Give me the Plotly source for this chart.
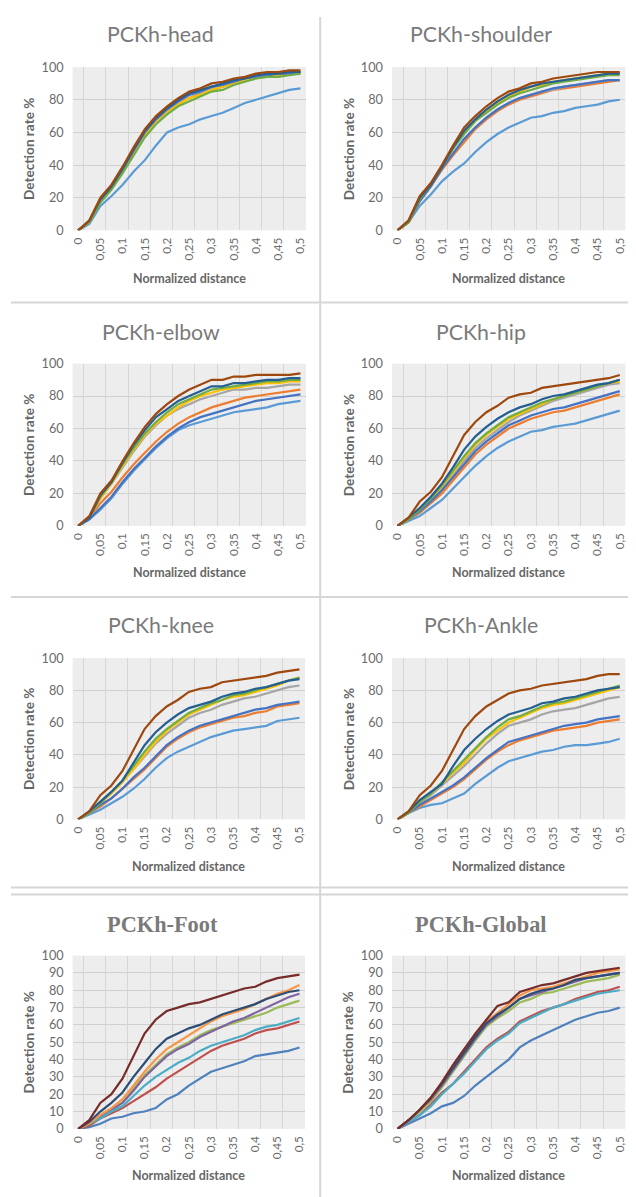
import plotly.graph_objects as go

# Page placement observed for the figure in the photographed window:
# screen = ORG + SC * figure_pixel.  Positions below are given in screen pixels
# and converted back to figure pixels.
ORG, SC = 16.0, 0.985
W, H = 630, 1200

x_vals = [0, 0.025, 0.05, 0.075, 0.1, 0.125, 0.15, 0.175, 0.2, 0.225, 0.25,
          0.275, 0.3, 0.325, 0.35, 0.375, 0.4, 0.425, 0.45, 0.475, 0.5]
x_tick_vals = [0, 0.05, 0.1, 0.15, 0.2, 0.25, 0.3, 0.35, 0.4, 0.45, 0.5]
x_tick_text = ["0", "0,05", "0,1", "0,15", "0,2", "0,25", "0,3", "0,35", "0,4", "0,45", "0,5"]

titles = ["PCKh-head", "PCKh-shoulder", "PCKh-elbow", "PCKh-hip",
          "PCKh-knee", "PCKh-Ankle", "PCKh-Foot", "PCKh-Global"]

colors_top = ['#5B9BD5', '#ED7D31', '#A5A5A5', '#FFC000', '#4472C4', '#70AD47', '#255E91', '#9E480E']
colors_bottom = ['#4F81BD', '#C0504D', '#9BBB59', '#8064A2', '#4BACC6', '#F79646', '#2C4D75', '#772C2A']

head = [
    [0, 4, 15, 21, 28, 36, 43, 52, 60, 63, 65, 68, 70, 72, 75, 78, 80, 82, 84, 86, 87],
    [0, 5, 18, 26, 36, 48, 59, 67, 73, 78, 81, 84, 86, 88, 90, 92, 94, 95, 95, 96, 97],
    [0, 5, 18, 26, 37, 48, 59, 67, 73, 78, 81, 84, 87, 88, 90, 92, 94, 95, 95, 96, 96],
    [0, 5, 18, 26, 36, 48, 58, 67, 73, 77, 81, 83, 86, 88, 90, 92, 93, 94, 95, 96, 96],
    [0, 5, 18, 27, 37, 49, 60, 68, 74, 79, 83, 85, 88, 89, 91, 93, 94, 95, 96, 96, 97],
    [0, 5, 17, 25, 35, 46, 57, 65, 71, 76, 79, 82, 85, 86, 89, 91, 93, 94, 94, 95, 96],
    [0, 6, 19, 27, 38, 50, 61, 69, 75, 80, 84, 86, 88, 90, 92, 93, 95, 96, 96, 97, 97],
    [0, 6, 20, 28, 39, 51, 62, 70, 76, 81, 85, 87, 90, 91, 93, 94, 96, 97, 97, 98, 98],
]
shoulder = [
    [0, 5, 15, 22, 30, 36, 41, 48, 54, 59, 63, 66, 69, 70, 72, 73, 75, 76, 77, 79, 80],
    [0, 5, 18, 27, 37, 46, 54, 62, 68, 73, 77, 80, 82, 84, 86, 87, 88, 89, 90, 91, 92],
    [0, 5, 18, 27, 38, 47, 56, 63, 69, 74, 78, 81, 83, 85, 86, 88, 89, 90, 91, 92, 92],
    [0, 5, 19, 28, 39, 50, 60, 67, 73, 78, 82, 85, 88, 89, 91, 92, 93, 94, 95, 96, 96],
    [0, 5, 18, 27, 38, 47, 56, 63, 69, 74, 78, 81, 83, 85, 87, 88, 89, 90, 91, 92, 92],
    [0, 5, 19, 28, 39, 50, 59, 67, 72, 77, 81, 84, 86, 88, 90, 91, 92, 93, 94, 95, 95],
    [0, 6, 20, 28, 39, 51, 61, 68, 74, 79, 83, 86, 88, 90, 91, 92, 93, 94, 95, 96, 96],
    [0, 6, 21, 29, 40, 52, 63, 70, 76, 81, 85, 87, 90, 91, 93, 94, 95, 96, 97, 97, 97],
]
elbow = [
    [0, 4, 10, 17, 26, 34, 41, 48, 54, 59, 62, 64, 66, 68, 70, 71, 72, 73, 75, 76, 77],
    [0, 5, 14, 21, 30, 38, 45, 52, 58, 63, 67, 70, 73, 75, 77, 79, 80, 81, 82, 83, 84],
    [0, 5, 17, 26, 36, 46, 55, 62, 68, 72, 75, 78, 80, 82, 84, 84, 85, 85, 86, 87, 87],
    [0, 5, 17, 26, 37, 47, 56, 63, 68, 73, 77, 80, 82, 84, 85, 86, 87, 88, 88, 89, 89],
    [0, 4, 11, 18, 27, 35, 42, 49, 55, 60, 64, 67, 69, 71, 73, 75, 77, 78, 79, 80, 81],
    [0, 5, 18, 27, 38, 48, 57, 64, 70, 75, 78, 81, 84, 85, 86, 87, 88, 89, 89, 90, 90],
    [0, 5, 19, 27, 39, 50, 59, 67, 72, 77, 80, 83, 86, 86, 88, 88, 89, 90, 90, 91, 91],
    [0, 6, 20, 28, 40, 51, 61, 69, 75, 80, 84, 87, 90, 90, 92, 92, 93, 93, 93, 93, 94],
]
hip = [
    [0, 3, 6, 11, 16, 23, 30, 37, 43, 48, 52, 55, 58, 59, 61, 62, 63, 65, 67, 69, 71],
    [0, 4, 8, 14, 20, 28, 36, 44, 50, 55, 60, 63, 66, 68, 70, 71, 73, 75, 77, 79, 81],
    [0, 4, 9, 16, 23, 31, 40, 48, 54, 59, 64, 68, 71, 74, 77, 79, 81, 83, 85, 87, 88],
    [0, 4, 10, 17, 24, 33, 42, 50, 56, 61, 66, 69, 72, 75, 78, 80, 82, 84, 86, 88, 89],
    [0, 4, 9, 15, 22, 30, 38, 46, 52, 57, 62, 65, 68, 70, 72, 73, 75, 77, 79, 81, 83],
    [0, 4, 10, 17, 25, 34, 43, 51, 57, 62, 67, 70, 73, 76, 78, 80, 82, 84, 86, 88, 90],
    [0, 5, 11, 18, 26, 36, 47, 55, 61, 66, 70, 73, 75, 78, 80, 81, 83, 85, 87, 88, 90],
    [0, 5, 15, 21, 30, 43, 56, 64, 70, 74, 79, 81, 82, 85, 86, 87, 88, 89, 90, 91, 93],
]
knee = [
    [0, 3, 6, 10, 14, 19, 25, 32, 38, 42, 45, 48, 51, 53, 55, 56, 57, 58, 61, 62, 63],
    [0, 4, 8, 13, 19, 25, 31, 38, 45, 50, 54, 57, 59, 61, 63, 64, 66, 67, 70, 71, 72],
    [0, 4, 10, 17, 24, 31, 39, 47, 53, 58, 63, 66, 68, 71, 73, 75, 76, 78, 80, 82, 83],
    [0, 4, 10, 16, 23, 31, 40, 48, 55, 60, 65, 68, 71, 74, 76, 77, 79, 81, 83, 86, 88],
    [0, 4, 9, 13, 19, 26, 32, 39, 46, 51, 55, 58, 60, 62, 64, 66, 68, 69, 71, 72, 73],
    [0, 4, 10, 17, 24, 33, 42, 50, 56, 61, 66, 69, 72, 74, 77, 78, 80, 82, 84, 86, 88],
    [0, 5, 11, 17, 24, 35, 46, 54, 60, 65, 69, 71, 73, 76, 78, 79, 81, 82, 84, 86, 87],
    [0, 5, 15, 21, 30, 43, 56, 64, 70, 74, 79, 81, 82, 85, 86, 87, 88, 89, 91, 92, 93],
]
ankle = [
    [0, 4, 7, 9, 10, 13, 16, 22, 27, 32, 36, 38, 40, 42, 43, 45, 46, 46, 47, 48, 50],
    [0, 4, 8, 12, 16, 20, 25, 31, 37, 42, 46, 49, 51, 53, 55, 56, 57, 58, 60, 61, 62],
    [0, 4, 10, 15, 21, 27, 33, 40, 47, 53, 58, 60, 62, 65, 67, 68, 69, 71, 73, 75, 76],
    [0, 4, 11, 16, 22, 29, 35, 43, 50, 55, 60, 63, 66, 69, 71, 72, 74, 76, 78, 80, 82],
    [0, 4, 9, 13, 17, 21, 26, 32, 38, 43, 48, 50, 52, 54, 56, 58, 59, 60, 62, 63, 64],
    [0, 4, 11, 16, 23, 30, 37, 44, 51, 57, 62, 64, 67, 70, 72, 73, 75, 77, 79, 81, 83],
    [0, 5, 12, 17, 22, 33, 43, 50, 56, 61, 65, 67, 69, 72, 73, 75, 76, 78, 80, 81, 82],
    [0, 5, 15, 21, 30, 43, 56, 64, 70, 74, 78, 80, 81, 83, 84, 85, 86, 87, 89, 90, 90],
]
foot = [
    [0, 1, 3, 6, 7, 9, 10, 12, 17, 20, 25, 29, 33, 35, 37, 39, 42, 43, 44, 45, 47],
    [0, 2, 6, 9, 12, 16, 20, 24, 29, 33, 37, 41, 45, 48, 50, 52, 55, 57, 58, 60, 62],
    [0, 3, 7, 11, 15, 23, 31, 37, 43, 47, 50, 54, 57, 59, 61, 63, 65, 67, 70, 72, 74],
    [0, 3, 7, 11, 15, 22, 30, 36, 42, 46, 49, 53, 56, 59, 62, 64, 67, 70, 73, 76, 78],
    [0, 3, 6, 10, 13, 19, 25, 30, 34, 38, 41, 45, 48, 50, 52, 54, 57, 59, 60, 62, 64],
    [0, 3, 8, 12, 17, 25, 33, 40, 46, 50, 54, 58, 62, 65, 67, 69, 72, 75, 78, 80, 83],
    [0, 4, 10, 15, 21, 30, 38, 46, 52, 55, 58, 60, 63, 66, 68, 70, 72, 75, 77, 79, 80],
    [0, 5, 15, 20, 29, 42, 55, 63, 68, 70, 72, 73, 75, 77, 79, 81, 82, 85, 87, 88, 89],
]
global_ = [
    [0, 3, 6, 9, 13, 15, 19, 25, 30, 35, 40, 47, 51, 54, 57, 60, 63, 65, 67, 68, 70],
    [0, 4, 8, 14, 21, 26, 33, 40, 47, 52, 56, 62, 65, 68, 70, 72, 75, 77, 79, 80, 82],
    [0, 5, 10, 16, 24, 33, 42, 51, 59, 64, 68, 73, 75, 78, 79, 81, 83, 85, 86, 87, 89],
    [0, 5, 11, 17, 25, 34, 43, 52, 60, 65, 70, 75, 77, 79, 81, 83, 85, 87, 88, 89, 90],
    [0, 4, 8, 13, 20, 26, 32, 39, 46, 51, 55, 61, 64, 67, 70, 72, 74, 76, 78, 79, 80],
    [0, 5, 11, 18, 26, 35, 44, 54, 62, 67, 72, 77, 80, 81, 82, 84, 86, 88, 90, 91, 92],
    [0, 5, 11, 18, 26, 35, 44, 53, 61, 66, 70, 75, 78, 80, 81, 83, 86, 87, 88, 89, 90],
    [0, 5, 11, 18, 27, 37, 46, 55, 63, 71, 73, 79, 81, 83, 84, 86, 88, 90, 91, 92, 93],
]
panels = [head, shoulder, elbow, hip, knee, ankle, foot, global_]

# plot-area boxes in screen pixels (left, right, top, bottom)
boxes = [
    (77, 308, 66, 229), (393, 624, 66, 229),
    (77, 308, 362, 524), (393, 624, 362, 524),
    (77, 307, 656, 817), (393, 624, 656, 817),
    (77, 307, 953, 1126), (393, 624, 953, 1126),
]
title_x = [164, 481, 164, 481, 164, 481, 166, 481]
title_y = [33, 33, 330, 330, 623, 623, 922, 922]
xtitle_y = [277, 277, 571, 571, 864, 864, 1173, 1173]


def px(v):
    return ((v - ORG) / SC) / W


def py(v):
    return 1 - ((v - ORG) / SC) / H


def fs(v):
    return v / SC


fig = go.Figure()
layout = dict(
    width=W, height=H, margin=dict(l=0, r=0, t=0, b=0),
    paper_bgcolor="white", plot_bgcolor="#ededed", showlegend=False,
    font=dict(family="Lato", color="#6b6b6b"),
)
annotations = []
for i, data in enumerate(panels):
    l, r, t, b = boxes[i]
    bottom_row = i >= 6
    cols = colors_bottom if bottom_row else colors_top
    ax = "" if i == 0 else str(i + 1)
    for s, ys in enumerate(data):
        fig.add_trace(go.Scatter(
            x=x_vals, y=ys, mode="lines", name=f"Method {s + 1}",
            line=dict(color=cols[s], width=2.2),
            xaxis="x" + ax, yaxis="y" + ax, hoverinfo="skip",
        ))
    layout["xaxis" + ax] = dict(
        domain=[px(l), px(r)], anchor="y" + ax, range=[-0.0125, 0.5125],
        tickmode="array", tickvals=x_tick_vals, ticktext=x_tick_text,
        tickangle=-90, tickfont=dict(size=fs(11.5), color="#6b6b6b"),
        showgrid=False, zeroline=False, showline=False, ticks="",
        ticklabelstandoff=4, fixedrange=True,
        minor=dict(showgrid=True, gridcolor="#d6d6d6", gridwidth=1,
                   tickmode="linear", tick0=0.0125, dtick=0.05),
    )
    layout["yaxis" + ax] = dict(
        domain=[py(b), py(t)], anchor="x" + ax, range=[0, 100],
        tickmode="linear", tick0=0, dtick=10 if bottom_row else 20,
        tickfont=dict(size=fs(12.5), color="#6b6b6b"),
        showgrid=True, gridcolor="#d0d0d0", gridwidth=1,
        zeroline=False, showline=False, ticks="", ticklabelstandoff=8,
        fixedrange=True,
    )
    if bottom_row:
        tfont = dict(family="Liberation Serif", size=fs(22), color="#7a7a7a")
        ttext = "<b>" + titles[i] + "</b>"
    else:
        tfont = dict(family="Lato", size=fs(21), color="#7a7a7a")
        ttext = titles[i]
    annotations.append(dict(text=ttext, x=px(title_x[i]), y=py(title_y[i]), xref="paper", yref="paper",
                            xanchor="center", yanchor="middle", showarrow=False, font=tfont))
    annotations.append(dict(text="<b>Normalized distance</b>", x=px((l + r) / 2), y=py(xtitle_y[i]),
                            xref="paper", yref="paper", xanchor="center", yanchor="middle",
                            showarrow=False, font=dict(family="Lato", size=fs(12.3), color="#666666")))
    annotations.append(dict(text="<b>Detection rate %</b>", x=px(l - 43), y=py((t + b) / 2),
                            xref="paper", yref="paper", xanchor="center", yanchor="middle",
                            textangle=-90, showarrow=False,
                            font=dict(family="Lato", size=fs(13.4), color="#666666")))

shapes = []
line_style = dict(color="#d6d6d6", width=2)
for xv in [322]:
    shapes.append(dict(type="line", xref="paper", yref="paper", x0=px(xv), x1=px(xv), y0=0, y1=1,
                       line=line_style))
for yv in [301, 595, 885, 892]:
    shapes.append(dict(type="line", xref="paper", yref="paper", x0=0, x1=1, y0=py(yv), y1=py(yv),
                       line=line_style))

layout["annotations"] = annotations
layout["shapes"] = shapes
fig.update_layout(**layout)
fig.write_html("out.html")
